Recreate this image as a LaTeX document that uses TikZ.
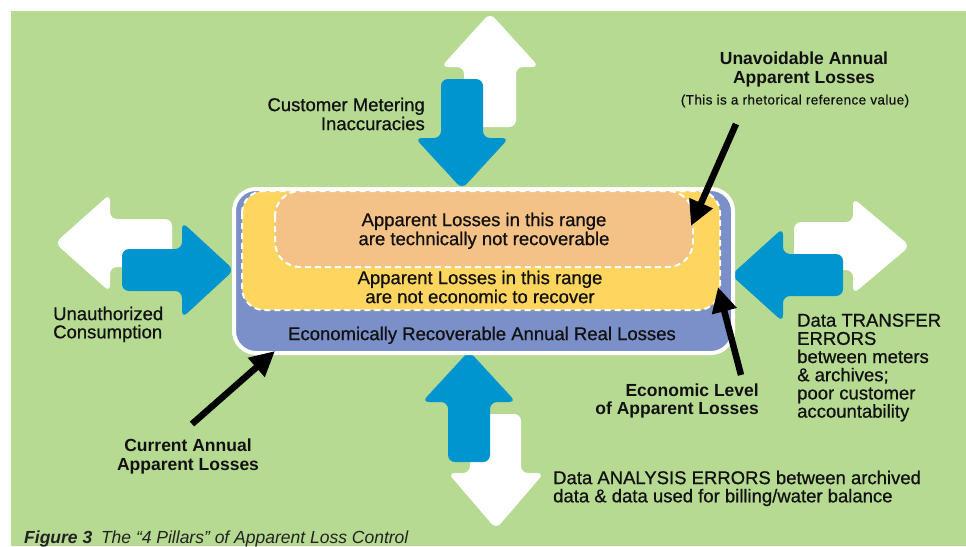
\documentclass[tikz,border=0pt]{standalone}
\usepackage{fontspec}
\setmainfont{Liberation Sans}
\newfontfamily\medsans{Liberation Sans}[FakeBold=0.7]
\newfontfamily\notesans{Liberation Sans}[FakeBold=0.5, LetterSpace=3]
\usetikzlibrary{arrows.meta}

\definecolor{bggreen}{HTML}{B7DA92}
\definecolor{pillarblue}{HTML}{0095CF}
\definecolor{realblue}{HTML}{7B8FC8}
\definecolor{econyellow}{HTML}{FDD55F}
\definecolor{techorange}{HTML}{F4C186}
\definecolor{ink}{HTML}{111111}
\definecolor{captionink}{HTML}{222222}

\tikzset{
  pillar/.style={rounded corners=7pt, draw=none},
  inpillar/.style={pillar, fill=pillarblue},
  outpillar/.style={pillar, fill=white},
  zone/.style={draw=white, line width=2pt, dash pattern=on 6pt off 4pt},
  pointer/.style={draw=black, line width=6.5pt, -{Triangle[length=25pt,width=24pt]}},
  lbl/.style={text=ink, inner sep=0pt, font=\medsans\fontsize{18.5}{19}\selectfont},
  lbltight/.style={lbl, font=\medsans\fontsize{18.5}{18.2}\selectfont},
  boldlbl/.style={text=ink, inner sep=0pt, font=\bfseries\fontsize{17.5}{19}\selectfont},
}

\begin{document}
\begin{tikzpicture}[x=1pt,y=-1pt]
  % canvas
  \useasboundingbox (0,0) rectangle (966,546);
  \fill[white] (0,0) rectangle (966,546);
  \fill[bggreen] (11,11) rectangle (966,546);

  % pillar 1: customer metering (top)
  \path[outpillar] (464,127) -- (464,67) -- (441,67) -- (490,13) -- (539,67) -- (516,67) -- (516,127) -- cycle;
  \path[inpillar] (441,79) -- (483,79) -- (483,138) -- (509,138) -- (462,189) -- (415,138) -- (441,138) -- cycle;

  % pillar 2: unauthorized consumption (left)
  \path[outpillar] (172,219) -- (110,219) -- (110,194) -- (55,243) -- (110,292) -- (110,267) -- (172,267) -- cycle;
  \path[inpillar] (122,249) -- (182,249) -- (182,222) -- (234,270) -- (182,318) -- (182,291) -- (122,291) -- cycle;

  % pillar 3: data transfer errors (right)
  \path[outpillar] (794,222) -- (853,222) -- (853,198) -- (910,246) -- (853,294) -- (853,270) -- (794,270) -- cycle;
  \path[inpillar] (843,254) -- (783,254) -- (783,228) -- (731,275) -- (783,322) -- (783,296) -- (843,296) -- cycle;

  % pillar 4: data analysis errors (bottom)
  \path[outpillar] (470,414) -- (521,414) -- (521,473) -- (544,473) -- (496,529) -- (448,473) -- (470,473) -- cycle;
  \path[inpillar] (448,462) -- (448,402) -- (422,402) -- (469,351) -- (516,402) -- (490,402) -- (490,462) -- cycle;

  % loss ranges
  \path[fill=realblue, draw=white, line width=4pt, rounded corners=22pt] (234,189) rectangle (733,353);
  \path[zone, fill=econyellow, rounded corners=22pt] (242,191) rectangle (720,310);
  \path[zone, fill=techorange, rounded corners=25pt] (275,191) rectangle (693,267);

  \node[lbl, align=center, anchor=north] (tech) at (484,212.5)
    {Apparent Losses in this range\\are technically not recoverable};
  \node[lbl, align=center, anchor=north] (econ) at (480,270.5)
    {Apparent Losses in this range\\are not economic to recover};
  \node[lbl, anchor=north] (real) at (482,326.5)
    {Economically Recoverable Annual Real Losses};

  % pillar labels
  \node[lbl, align=right, anchor=north east] (meter) at (425,97.5)
    {Customer Metering\\Inaccuracies};
  \node[lbltight, align=left, anchor=north west] (unauth) at (53,306.5)
    {Unauthorized\\Consumption};
  \node[lbltight, align=left, anchor=north west] (transfer) at (797,313.5)
    {Data TRANSFER\\ERRORS\\between meters\\\& archives;\\poor customer\\accountability};
  \node[lbltight, align=left, anchor=north west] (analysis) at (553,470.5)
    {Data ANALYSIS ERRORS between archived\\data \& data used for billing/water balance};

  % level labels and pointers
  \node[boldlbl, align=center, anchor=north] (unavoid) at (804,51.7)
    {Unavoidable Annual\\Apparent Losses};
  \node[text=ink, inner sep=0pt, font=\notesans\fontsize{13.5}{15}\selectfont] (rhet) at (795,101)
    {(This is a rhetorical reference value)};
  \node[boldlbl, align=right, anchor=north east, font=\bfseries\fontsize{17.5}{18}\selectfont] (econlevel) at (759,383.7)
    {Economic Level\\of Apparent Losses};
  \node[boldlbl, align=center, anchor=north] (current) at (188,438.7)
    {Current Annual\\Apparent Losses};

  \coordinate (unavoidTail) at (736,124);
  \coordinate (unavoidTip) at (691,226);
  \coordinate (econTail) at (741,375);
  \coordinate (econTip) at (718,287);
  \coordinate (currentTail) at (192,424);
  \coordinate (currentTip) at (275,351);
  \draw[pointer] (unavoidTail) -- (unavoidTip);
  \draw[pointer] (econTail) -- (econTip);
  \draw[pointer] (currentTail) -- (currentTip);

  % caption
  \node[text=captionink, inner sep=0pt, anchor=north west, font=\itshape\fontsize{17.5}{20}\selectfont] (caption) at (24,530.5)
    {\textbf{Figure 3}\enspace The “4 Pillars” of Apparent Loss Control};
\end{tikzpicture}
\end{document}
